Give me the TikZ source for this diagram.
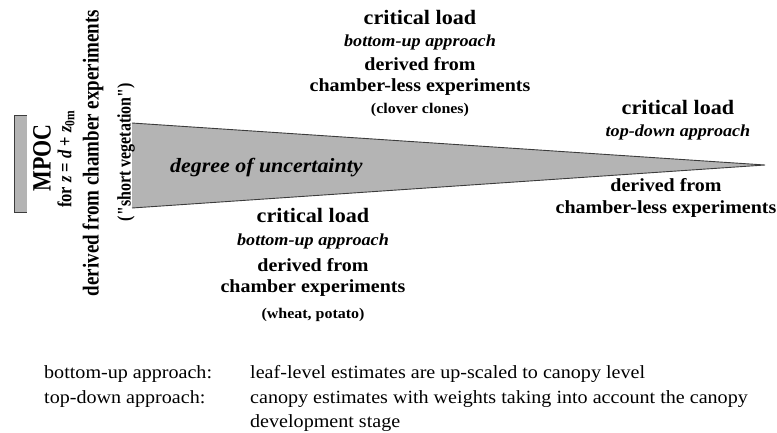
\documentclass[tikz,border=0pt]{standalone}
\usepackage{graphicx}
\usepackage{fontspec}
\setmainfont{Liberation Serif}[FakeStretch=1.08]
\newfontfamily\plainserif{Liberation Serif}
\usetikzlibrary{positioning}

\definecolor{bandgray}{RGB}{180,180,180}
\definecolor{edgegray}{RGB}{60,60,60}

\newcommand{\fsz}[1]{\fontsize{#1}{21}\selectfont}
\newcommand{\thick}[1]{\scalebox{1}[1.2]{#1}}

\begin{document}
\begin{tikzpicture}[x=1pt, y=-1pt,
    band/.style={fill=bandgray, draw=none},
    rim/.style={draw=edgegray, line width=0.9pt},
    vlabel/.style={rotate=90, inner sep=0pt, font=\plainserif\bfseries},
    block/.style={align=center, inner sep=0pt, anchor=north, font=\fsz{18.5}},
    legend/.style={inner sep=0pt, anchor=base west, font=\fontsize{18.6}{24}\selectfont}]
    \useasboundingbox (0,0) rectangle (777,432);

    % MPOC bar and the uncertainty wedge
    \fill[band] (14,115) rectangle (27,212);
    \draw[rim] (14,115) -- (27,115) (14,212) -- (27,212);
    \draw[rim, line width=0.5pt] (14,115) -- (14,212);
    \fill[band] (132,123) -- (765,165) -- (132,208) -- cycle;
    \draw[rim] (132,123) -- (765,165) -- (132,208);

    % vertical labels
    \node[vlabel] (mpoc) at (42,158) {\thick{\fontsize{22}{24}\selectfont MPOC}};
    \node[vlabel] (height) at (66,159) {\thick{\fontsize{16.5}{20}\selectfont for \textit{z} = \textit{d} + \textit{z}\textsubscript{0m}}};
    \node[vlabel] (chamber) at (93,153) {\thick{\fontsize{19}{21}\selectfont derived from chamber experiments}};
    \node[vlabel] (short) at (126,152) {\thick{\fontsize{16}{18}\selectfont ("short vegetation")}};

    \node[font=\fontsize{20.3}{22}\selectfont\bfseries\itshape, inner sep=0pt, anchor=base west] (uncert) at (170,172) {degree of uncertainty};

    % critical loads
    \node[block] (clup) at (420,10) {\fsz{20.5}\bfseries critical load\\[1pt]
        \fsz{16.8}\bfseries\itshape bottom-up approach\\[3pt]
        \fsz{18.5}\bfseries derived from\\
        \fsz{18.5}\bfseries chamber-less experiments\\[1pt]
        \fsz{14.8}\bfseries (clover clones)};
    \node[block] (cltd) at (678,100) {\fsz{20.5}\bfseries critical load\\[1pt]
        \fsz{16.8}\bfseries\itshape top-down approach};
    \node[block] (cltdsrc) at (666,178) {\fsz{18.5}\bfseries derived from\\[1pt]
        \fsz{18.5}\bfseries chamber-less experiments};
    \node[block] (clbu) at (313,208) {\fsz{20.5}\bfseries critical load\\[2pt]
        \fsz{16.8}\bfseries\itshape bottom-up approach\\[5pt]
        \fsz{18.5}\bfseries derived from\\
        \fsz{18.5}\bfseries chamber experiments\\[5pt]
        \fsz{14.8}\bfseries (wheat, potato)};

    % legend
    \node[legend] (bulbl) at (44,378) {bottom-up approach:};
    \node[legend] (butxt) at (250,378) {leaf-level estimates are up-scaled to canopy level};
    \node[legend] (tdlbl) at (44,403) {top-down approach:};
    \node[legend] (tdtxt) at (250,403) {canopy estimates with weights taking into account the canopy};
    \node[legend] (tdtxt2) at (250,427) {development stage};
\end{tikzpicture}
\end{document}
